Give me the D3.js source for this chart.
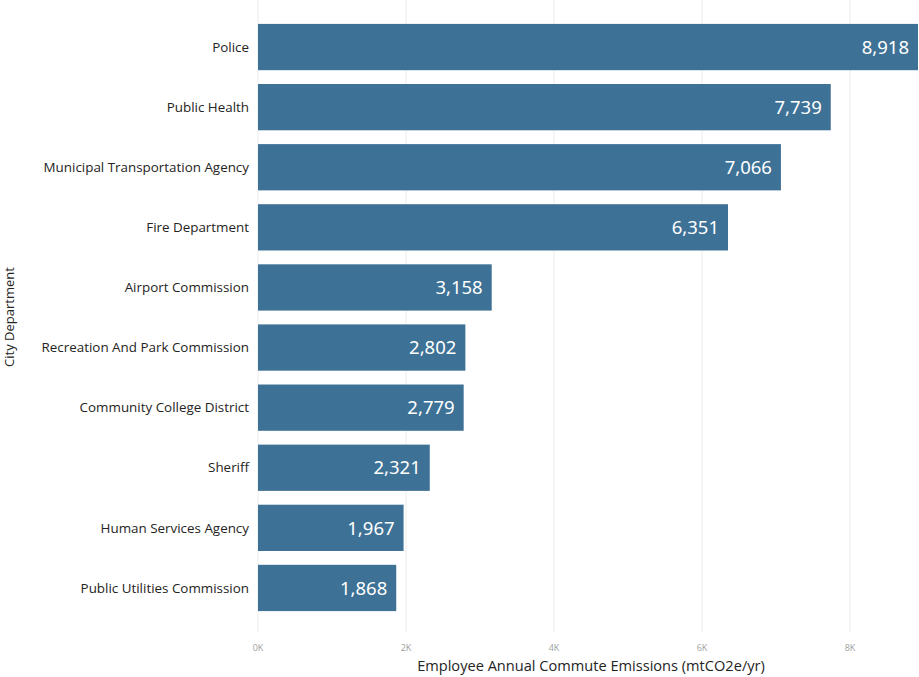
<!DOCTYPE html>
<html>
<head>
<meta charset="utf-8">
<script src="https://cdn.jsdelivr.net/npm/d3@7"></script>
<style>
  html, body { margin: 0; padding: 0; background: #fff; }
  svg { display: block; }
</style>
</head>
<body>
<svg id="chart" width="919" height="677"></svg>
<script>
// Employee commute emissions by city department
const departments = [
  "Police",
  "Public Health",
  "Municipal Transportation Agency",
  "Fire Department",
  "Airport Commission",
  "Recreation And Park Commission",
  "Community College District",
  "Sheriff",
  "Human Services Agency",
  "Public Utilities Commission"
];
const emissions = [8918, 7739, 7066, 6351, 3158, 2802, 2779, 2321, 1967, 1868];
const xTicks = [0, 2000, 4000, 6000, 8000];

const rows = departments.map((d, i) => ({ name: d, value: emissions[i] }));

const svg = d3.select("#chart");
const left = 258, right = 918;

const x = d3.scaleLinear().domain([0, 8918]).range([left, right]);
const y = d3.scaleBand()
  .domain(departments)
  .range([17, 618])
  .paddingInner(0.23)
  .paddingOuter(0.115);

// vertical gridlines
svg.append("g")
  .selectAll("line")
  .data(xTicks)
  .join("line")
  .attr("x1", d => x(d)).attr("x2", d => x(d))
  .attr("y1", 0).attr("y2", 632)
  .attr("stroke", "#ececec")
  .attr("stroke-width", 1);

// x tick labels
svg.append("g")
  .selectAll("text")
  .data(xTicks)
  .join("text")
  .attr("x", d => x(d))
  .attr("y", 651)
  .attr("text-anchor", "middle")
  .attr("font-family", "'Open Sans', sans-serif")
  .attr("font-size", 9)
  .attr("fill", "#a0a0a0")
  .text(d => (d / 1000) + "K");

// bars
svg.append("g")
  .selectAll("rect")
  .data(rows)
  .join("rect")
  .attr("x", x(0))
  .attr("y", d => y(d.name))
  .attr("width", d => x(d.value) - x(0))
  .attr("height", y.bandwidth())
  .attr("fill", "#3e7196");

// value labels inside bar ends
svg.append("g")
  .selectAll("text")
  .data(rows)
  .join("text")
  .attr("x", d => x(d.value) - 9)
  .attr("y", d => y(d.name) + y.bandwidth() / 2)
  .attr("dy", "0.36em")
  .attr("text-anchor", "end")
  .attr("font-family", "'Noto Sans', sans-serif")
  .attr("font-size", 18.5)
  .attr("fill", "#ffffff")
  .text(d => d3.format(",")(d.value));

// category labels
svg.append("g")
  .selectAll("text")
  .data(rows)
  .join("text")
  .attr("x", 249)
  .attr("y", d => y(d.name) + y.bandwidth() / 2)
  .attr("dy", "0.35em")
  .attr("text-anchor", "end")
  .attr("font-family", "'Open Sans', sans-serif")
  .attr("font-size", 13.4)
  .attr("fill", "#252423")
  .text(d => d.name);

// axis titles
svg.append("text")
  .attr("x", (x(0) + x(8918)) / 2 + 3)
  .attr("y", 671)
  .attr("text-anchor", "middle")
  .attr("font-family", "'Open Sans', sans-serif")
  .attr("font-size", 14.6)
  .attr("fill", "#252423")
  .text("Employee Annual Commute Emissions (mtCO2e/yr)");

svg.append("text")
  .attr("transform", "translate(14,317) rotate(-90)")
  .attr("text-anchor", "middle")
  .attr("font-family", "'Open Sans', sans-serif")
  .attr("font-size", 13)
  .attr("fill", "#252423")
  .text("City Department");
</script>
</body>
</html>
